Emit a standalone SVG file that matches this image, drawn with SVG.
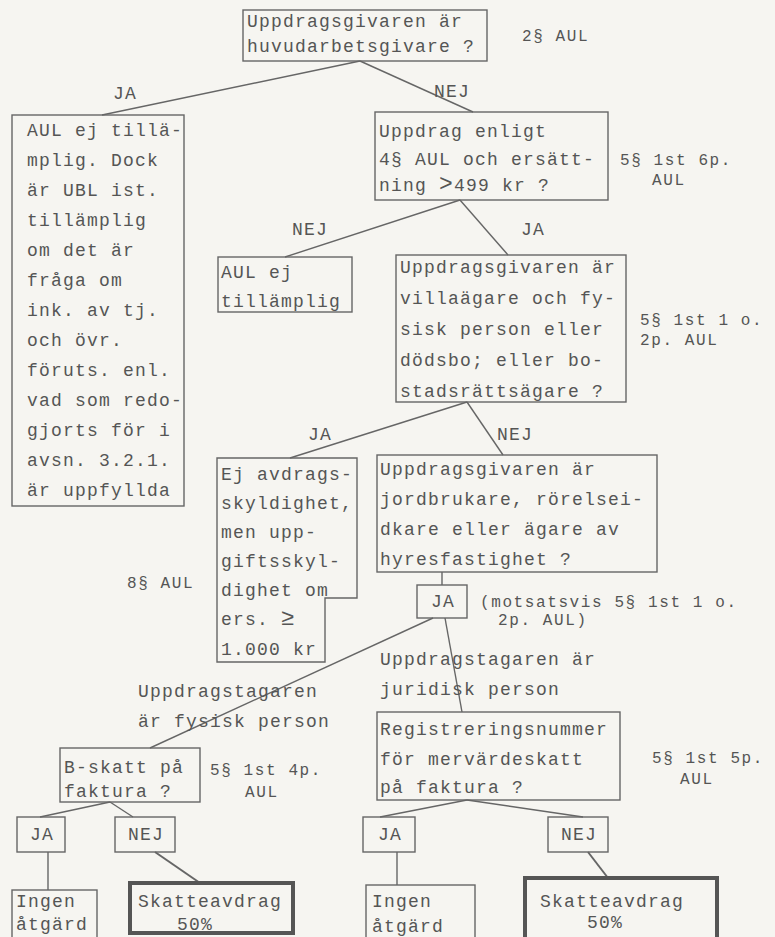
<svg xmlns="http://www.w3.org/2000/svg" width="775" height="937" viewBox="0 0 775 937">
<style>
text{font-family:"Liberation Mono","DejaVu Sans Mono",monospace;font-size:18px;letter-spacing:1.2px;fill:#555}
.c{text-anchor:middle}
.s{font-size:16px;letter-spacing:1.6px}
.b{fill:none;stroke:#666;stroke-width:1.4}
.t{fill:none;stroke:#555;stroke-width:4}
#connectors line{stroke:#666;stroke-width:1.4}
</style>
<rect width="775" height="937" fill="#f6f5f1"/>
<g id="connectors">
<line x1="360" y1="61" x2="102" y2="115"/>
<line x1="360" y1="61" x2="473" y2="112"/>
<line x1="460" y1="200" x2="285" y2="257"/>
<line x1="460" y1="200" x2="508" y2="255"/>
<line x1="467" y1="402" x2="290" y2="458"/>
<line x1="467" y1="402" x2="503" y2="455"/>
<line x1="442" y1="572" x2="442" y2="585"/>
<line x1="433" y1="618" x2="150" y2="748"/>
<line x1="445" y1="618" x2="462" y2="712"/>
<line x1="110" y1="802" x2="40" y2="817"/>
<line x1="110" y1="802" x2="133" y2="817"/>
<line x1="48" y1="852" x2="48" y2="890"/>
<line x1="155" y1="852" x2="200" y2="883" style="stroke-width:2"/>
<line x1="467" y1="800" x2="380" y2="817"/>
<line x1="467" y1="800" x2="583" y2="817"/>
<line x1="397" y1="852" x2="397" y2="885"/>
<line x1="588" y1="852" x2="608" y2="878" style="stroke-width:2"/>
</g>
<g id="labels">
<text x="125" y="99" class="c">JA</text>
<text x="452" y="97" class="c">NEJ</text>
<text x="310" y="235" class="c">NEJ</text>
<text x="533" y="235" class="c">JA</text>
<text x="320" y="440" class="c">JA</text>
<text x="515" y="440" class="c">NEJ</text>
<text x="522" y="41" class="s">2§ AUL</text>
<text x="620" y="165" class="s">5§ 1st 6p.</text>
<text x="652" y="185" class="s">AUL</text>
<text x="640" y="325" class="s">5§ 1st 1 o.</text>
<text x="640" y="345" class="s">2p. AUL</text>
<text x="127" y="588" class="s">8§ AUL</text>
<text x="480" y="607" class="s">(motsatsvis 5§ 1st 1 o.</text>
<text x="498" y="625" class="s">2p. AUL)</text>
<text x="380" y="665">Uppdragstagaren är</text>
<text x="380" y="695">juridisk person</text>
<text x="138" y="697">Uppdragstagaren</text>
<text x="138" y="727">är fysisk person</text>
<text x="652" y="763" class="s">5§ 1st 5p.</text>
<text x="680" y="784" class="s">AUL</text>
<text x="210" y="775" class="s">5§ 1st 4p.</text>
<text x="245" y="797" class="s">AUL</text>
</g>
<g id="n1"><rect class="b" x="243" y="10" width="244" height="51"/>
<text x="247" y="27">Uppdragsgivaren är</text><text x="247" y="52">huvudarbetsgivare ?</text></g>
<g id="n2"><rect class="b" x="12" y="115" width="172" height="391"/>
<text x="27" y="136">AUL ej tillä-</text>
<text x="27" y="166">mplig. Dock</text>
<text x="27" y="196">är UBL ist.</text>
<text x="27" y="226">tillämplig</text>
<text x="27" y="256">om det är</text>
<text x="27" y="286">fråga om</text>
<text x="27" y="316">ink. av tj.</text>
<text x="27" y="346">och övr.</text>
<text x="27" y="376">föruts. enl.</text>
<text x="27" y="406">vad som redo-</text>
<text x="27" y="436">gjorts för i</text>
<text x="27" y="466">avsn. 3.2.1.</text>
<text x="27" y="496">är uppfyllda</text></g>
<g id="n3"><rect class="b" x="375" y="112" width="233" height="88"/>
<text x="379" y="137">Uppdrag enligt</text>
<text x="379" y="165">4§ AUL och ersätt-</text>
<text x="379" y="191">ning <tspan style="font-size:23px">&gt;</tspan>499 kr ?</text></g>
<g id="n4"><rect class="b" x="218" y="257" width="134" height="55"/>
<text x="221" y="278">AUL ej</text><text x="221" y="307">tillämplig</text></g>
<g id="n5"><rect class="b" x="396" y="255" width="230" height="147"/>
<text x="400" y="273">Uppdragsgivaren är</text>
<text x="400" y="304">villaägare och fy-</text>
<text x="400" y="335">sisk person eller</text>
<text x="400" y="366">dödsbo; eller bo-</text>
<text x="400" y="397">stadsrättsägare ?</text></g>
<g id="n6"><path class="b" d="M217,458 H357 V598 H325 V662 H217 Z"/>
<text x="221" y="480">Ej avdrags-</text>
<text x="221" y="509">skyldighet,</text>
<text x="221" y="538">men upp-</text>
<text x="221" y="567">giftsskyl-</text>
<text x="221" y="596">dighet om</text>
<text x="221" y="625">ers. <tspan style="font-size:23px">≥</tspan></text>
<text x="221" y="655">1.000 kr</text></g>
<g id="n7"><rect class="b" x="377" y="455" width="280" height="117"/>
<text x="380" y="475">Uppdragsgivaren är</text>
<text x="380" y="505">jordbrukare, rörelsei-</text>
<text x="380" y="535">dkare eller ägare av</text>
<text x="380" y="565">hyresfastighet ?</text></g>
<g id="n8"><rect class="b" x="417" y="585" width="50" height="33"/>
<text x="443" y="607" class="c">JA</text></g>
<g id="n9"><rect class="b" x="377" y="712" width="243" height="88"/>
<text x="380" y="735">Registreringsnummer</text>
<text x="380" y="765">för mervärdeskatt</text>
<text x="380" y="793">på faktura ?</text></g>
<g id="n10"><rect class="b" x="60" y="748" width="140" height="54"/>
<text x="64" y="773">B-skatt på</text>
<text x="64" y="797">faktura ?</text></g>
<g id="n11"><rect class="b" x="17" y="817" width="48" height="35"/>
<text x="42" y="840" class="c">JA</text></g>
<g id="n12"><rect class="b" x="115" y="817" width="60" height="35"/>
<text x="146" y="840" class="c">NEJ</text></g>
<g id="n13"><rect class="b" x="363" y="817" width="52" height="35"/>
<text x="390" y="840" class="c">JA</text></g>
<g id="n14"><rect class="b" x="548" y="817" width="60" height="35"/>
<text x="579" y="840" class="c">NEJ</text></g>
<g id="n15"><rect class="b" x="12" y="890" width="85" height="60"/>
<text x="16" y="907">Ingen</text>
<text x="16" y="930">åtgärd</text></g>
<g id="n16"><rect class="t" x="130" y="883" width="163" height="50"/>
<text x="138" y="907">Skatteavdrag</text>
<text x="177" y="930">50%</text></g>
<g id="n17"><rect class="b" x="366" y="885" width="109" height="65"/>
<text x="372" y="907">Ingen</text>
<text x="372" y="932">åtgärd</text></g>
<g id="n18"><rect class="t" x="525" y="878" width="192" height="72"/>
<text x="540" y="907">Skatteavdrag</text>
<text x="587" y="928">50%</text></g>
</svg>
